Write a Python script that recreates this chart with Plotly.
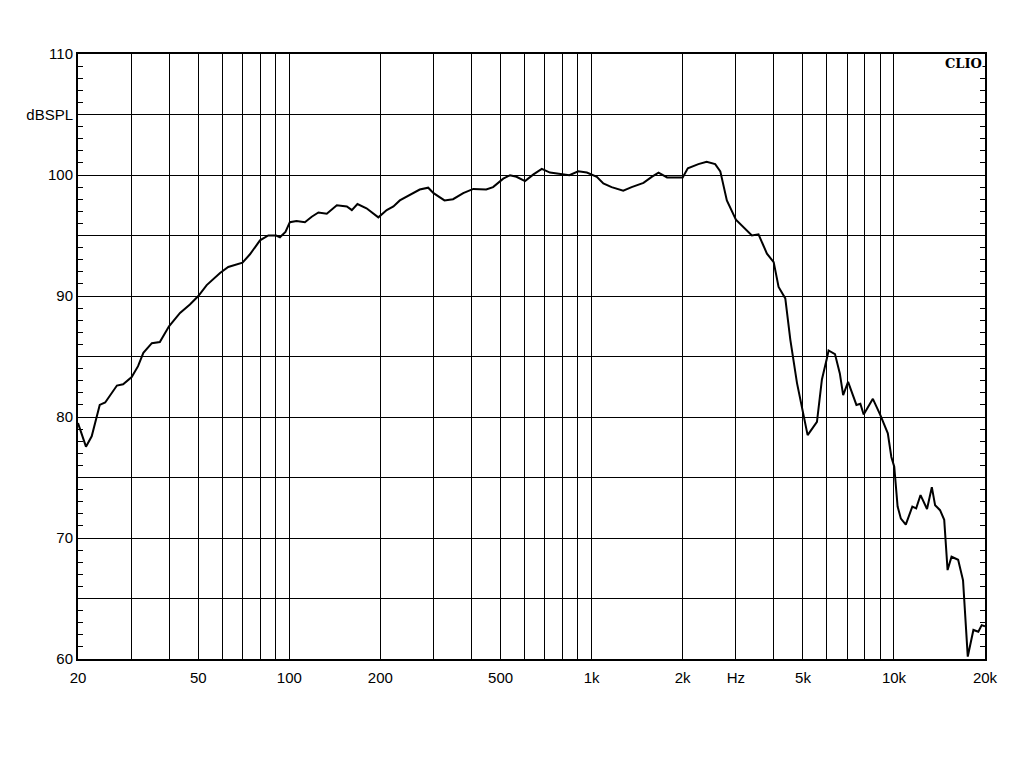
import plotly.graph_objects as go

# Frequency (Hz) and SPL (dB)
freq = [20, 21.25, 22.2, 23.6, 24.6, 26.9, 28.2, 30.1, 31.6, 32.9, 35.1, 37.3, 40.0,
        43.5, 46.9, 50.0, 53.3, 59, 62.8, 70, 74.1, 80, 85.2, 90.5, 93.1, 97.1,
        100.4, 105.6, 112.6, 118.6, 124.8, 133, 143.6, 155, 161, 168, 180, 197,
        210, 221, 232, 251, 270, 288, 300, 326, 348, 376, 406, 448, 472, 510,
        537, 564, 602, 642, 684, 728, 786, 844, 903, 964, 1040, 1093, 1164,
        1272, 1356, 1484, 1580, 1664, 1776, 2000, 2080, 2254, 2400, 2562, 2664,
        2800, 3000, 3174, 3388, 3564, 3800, 4000, 4152, 4370, 4540, 4778, 5024,
        5180, 5562, 5776, 6000, 6076, 6380, 6620, 6790, 7050, 7512, 7740, 7938,
        8514, 9000, 9540, 9800, 10020, 10280, 10540, 10940, 11500, 11840, 12240,
        12860, 13340, 13680, 14200, 14660, 15040, 15500, 16300, 16920, 17340,
        17540, 18310, 19010, 19500, 20000]
spl = [79.5, 77.55, 78.4, 81.0, 81.2, 82.6, 82.7, 83.3, 84.2, 85.3, 86.1, 86.2, 87.5,
       88.6, 89.3, 90.0, 90.9, 91.9, 92.4, 92.75, 93.45, 94.6, 95.0, 95.0, 94.85, 95.3,
       96.1, 96.2, 96.1, 96.55, 96.9, 96.8, 97.5, 97.4, 97.1, 97.6, 97.25, 96.5,
       97.1, 97.4, 97.9, 98.4, 98.8, 98.95, 98.5, 97.9, 98.0, 98.5, 98.85, 98.8, 99.0, 99.7,
       99.98, 99.85, 99.5, 100.05, 100.5, 100.2, 100.1, 99.98, 100.3, 100.2, 99.85, 99.3, 99.0,
       98.7, 99.0, 99.35, 99.85, 100.2, 99.8, 99.8, 100.55, 100.9, 101.1, 100.9, 100.3,
       97.9, 96.3, 95.7, 95.0, 95.1, 93.5, 92.8, 90.75, 89.8, 86.4, 82.8, 80.0,
       78.5, 79.6, 83.1, 84.85, 85.5, 85.2, 83.6, 81.8, 82.9, 81.0, 81.1, 80.2,
       81.5, 80.2, 78.65, 76.7, 75.9, 72.6, 71.6, 71.1, 72.6, 72.45, 73.55,
       72.4, 74.2, 72.7, 72.3, 71.5, 67.35, 68.45, 68.2, 66.5, 62.4,
       60.2, 62.4, 62.25, 62.8, 62.7]

x_grid = [20, 30, 40, 50, 60, 70, 80, 90, 100, 200, 300, 400, 500, 600, 700, 800, 900,
          1000, 2000, 3000, 4000, 5000, 6000, 7000, 8000, 9000, 10000, 20000]
x_text = ["20", "", "", "50", "", "", "", "", "100", "200", "", "", "500", "", "", "", "",
          "1k", "2k", "Hz", "", "5k", "", "", "", "", "10k", "20k"]
y_vals = [60, 65, 70, 75, 80, 85, 90, 95, 100, 105, 110]
y_text = ["60", "", "70", "", "80", "", "90", "", "100", "dBSPL", "110"]

fig = go.Figure()
fig.add_trace(go.Scatter(x=freq, y=spl, mode="lines",
                         line=dict(color="black", width=2), showlegend=False))

fig.update_layout(
    width=1024, height=768,
    margin=dict(l=70, r=47, t=46, b=117),
    paper_bgcolor="white", plot_bgcolor="white",
    font=dict(family="Liberation Sans, Arial, sans-serif", size=15, color="black"),
    xaxis=dict(type="log", range=[1.30103, 4.30103], tickvals=x_grid, ticktext=x_text,
               showgrid=True, gridcolor="black", gridwidth=1,
               showline=True, linecolor="black", linewidth=2, mirror=True,
               ticks="", zeroline=False, tickangle=0, ticklabelstandoff=4),
    yaxis=dict(range=[60, 110], tickvals=y_vals, ticktext=y_text,
               showgrid=True, gridcolor="black", gridwidth=1,
               showline=True, linecolor="black", linewidth=2, mirror="allticks",
               ticks="inside", ticklen=5, tickcolor="black",
               minor=dict(dtick=1, ticks="inside", ticklen=5, tickcolor="black", showgrid=False),
               zeroline=False),
)
fig.add_annotation(x=1, y=1, xref="paper", yref="paper", xanchor="right", yanchor="top",
                   text="<b>CLIO</b>", showarrow=False, xshift=-2, yshift=-1,
                   bgcolor="white", borderpad=0,
                   font=dict(family="DejaVu Serif, Liberation Serif, serif", size=13, color="black"))

fig.write_html("out.html")
